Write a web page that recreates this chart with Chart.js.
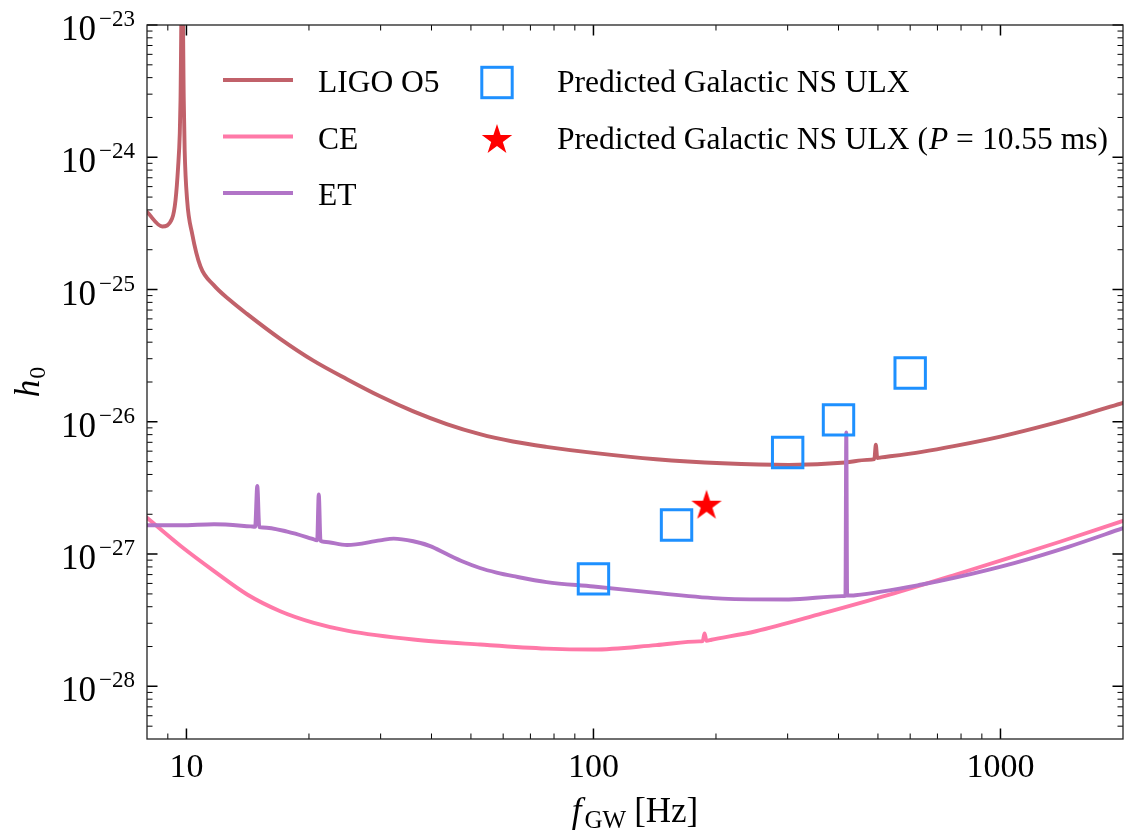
<!DOCTYPE html>
<html><head><meta charset="utf-8">
<script src="https://cdn.jsdelivr.net/npm/chart.js@4.4.1/dist/chart.umd.min.js"></script>
<style>html,body{margin:0;padding:0;background:#fff;}canvas{display:block;}</style>
</head><body>
<canvas id="c" width="1127" height="834"></canvas>
<script>
// ---------- data ----------
const ligoFreq = [8.0, 8.72, 9.22, 9.40, 9.54, 9.63, 9.67, 9.76, 9.85, 9.90, 10.04, 10.33, 10.82, 11.67, 12.82, 14.08, 17.0, 20.5, 24.8, 29.9, 36.1, 43.6, 52.6, 63.4, 76.6, 100, 142.5, 207.5, 302, 416, 470, 490, 494, 498, 510, 641, 774, 1000, 1311, 1614, 2000];
const ligoH    = [3.86e-25, 3.00e-25, 3.44e-25, 4.72e-25, 8.45e-25, 1.51e-24, 2.70e-24, 3.0e-23, 2.70e-24, 1.13e-24, 4.72e-25, 2.64e-25, 1.50e-25, 1.08e-25, 8.26e-26, 6.55e-26, 4.24e-26, 2.90e-26, 2.10e-26, 1.56e-26, 1.20e-26, 9.62e-27, 8.07e-27, 7.10e-27, 6.47e-27, 5.82e-27, 5.21e-27, 4.86e-27, 4.72e-27, 4.92e-27, 5.16e-27, 5.22e-27, 6.70e-27, 5.33e-27, 5.38e-27, 5.93e-27, 6.58e-27, 7.74e-27, 9.53e-27, 1.14e-26, 1.39e-26];

const ceFreq = [8.0, 9.68, 11.69, 14.1, 17.0, 20.56, 24.8, 36.1, 52.7, 76.7, 100, 142.5, 182, 185.5, 187.5, 189.5, 195, 250.6, 365, 531, 774, 1046, 1400, 2000];
const ceH    = [1.88e-27, 1.15e-27, 7.43e-28, 4.95e-28, 3.70e-28, 3.02e-28, 2.64e-28, 2.26e-28, 2.07e-28, 1.93e-28, 1.90e-28, 2.05e-28, 2.19e-28, 2.20e-28, 2.51e-28, 2.21e-28, 2.25e-28, 2.61e-28, 3.56e-28, 4.92e-28, 6.98e-28, 9.31e-28, 1.24e-27, 1.78e-27];

const etFreq = [8.0, 9.68, 11.69, 14.38, 14.75, 14.93, 15.1, 15.4, 17.68, 20.3, 20.95, 21.14, 21.35, 21.75, 24.8, 29.9, 32.3, 36.1, 39.7, 43.6, 47.9, 52.6, 57.8, 63.6, 76.7, 100, 142.5, 207.5, 302, 408, 416, 418, 420, 425, 440, 641, 774, 1086, 1468, 2000];
const etH    = [1.65e-27, 1.65e-27, 1.68e-27, 1.62e-27, 1.61e-27, 3.27e-27, 1.60e-27, 1.59e-27, 1.48e-27, 1.31e-27, 1.27e-27, 2.83e-27, 1.26e-27, 1.24e-27, 1.17e-27, 1.27e-27, 1.31e-27, 1.25e-27, 1.15e-27, 1.00e-27, 8.75e-28, 7.85e-28, 7.25e-28, 6.81e-28, 6.14e-28, 5.69e-28, 5.09e-28, 4.61e-28, 4.54e-28, 4.81e-28, 4.83e-28, 8.30e-27, 4.85e-28, 4.86e-28, 4.89e-28, 5.89e-28, 6.64e-28, 8.59e-28, 1.135e-27, 1.57e-27];

const ulxFreq = [100, 160, 300, 400, 600];
const ulxH    = [6.5e-28, 1.66e-27, 5.86e-27, 1.035e-26, 2.34e-26];

const starFreq = [189.6];
const starH    = [2.32e-27];

const seriesLabels = ['LIGO O5', 'CE', 'ET', 'Predicted Galactic NS ULX', 'Predicted Galactic NS ULX (P = 10.55 ms)'];
const xTickValues = [10, 100, 1000];
const xTickLabels = ['10', '100', '1000'];
const yTickExponents = [-28, -27, -26, -25, -24, -23];

// ---------- styling ----------
const COL_LIGO = '#c1616a', COL_CE = '#ff79a8', COL_ET = '#b174c7', COL_SQ = '#1e90ff', COL_STAR = '#ff0000';
const FONT = "'Liberation Serif','DejaVu Serif',serif";

function pts(xs, ys){ return xs.map((v,i)=>({x:v, y:ys[i]})); }

function makeStar(R, color){
  const s = Math.ceil(2*R+2);
  const c = document.createElement('canvas'); c.width = s; c.height = s;
  const g = c.getContext('2d'); g.fillStyle = color; g.beginPath();
  for (let i=0;i<10;i++){ const r = i%2 ? R*0.382 : R; const a = -Math.PI/2 + i*Math.PI/5; g.lineTo(s/2 + r*Math.cos(a), s/2 + r*Math.sin(a)); }
  g.closePath(); g.fill(); return c;
}
const starImg = makeStar(16, COL_STAR);

function lineDs(label, xs, ys, color, order){
  return {label, data: pts(xs, ys), showLine:true, borderColor:color, backgroundColor:color, borderWidth:3.9,
    pointRadius:0, pointHoverRadius:0, cubicInterpolationMode:'monotone', borderJoinStyle:'round', borderCapStyle:'round', order};
}

const decor = {
  id:'decor',
  afterDraw(chart){
    const {ctx, chartArea:a, scales:{x, y}} = chart;
    ctx.save();
    ctx.strokeStyle = '#000';
    const MAJ = 10.5, MIN = 5.5;
    const xv = [], yv = [];
    for (const d of [1,10,100,1000]) for (let m=1;m<=9;m++){ const v=m*d; if (v>=x.min-1e-9 && v<=x.max+1e-9) xv.push([v, m===1]); }
    for (let e=-29;e<=-23;e++) for (let m=1;m<=9;m++){ const v=m*Math.pow(10,e); if (v>=y.min*0.9999 && v<=y.max*1.0001) yv.push([v, m===1]); }
    for (const [v, maj] of xv){
      const px = x.getPixelForValue(v); if (px < a.left+1 || px > a.right-1) continue;
      const L = maj?MAJ:MIN; ctx.lineWidth = maj?1.5:1.0;
      ctx.beginPath(); ctx.moveTo(px, a.bottom); ctx.lineTo(px, a.bottom-L); ctx.moveTo(px, a.top); ctx.lineTo(px, a.top+L); ctx.stroke();
    }
    for (const [v, maj] of yv){
      const py = y.getPixelForValue(v); if (py > a.bottom-1) continue;
      const L = maj?MAJ:MIN; ctx.lineWidth = maj?1.5:1.0;
      ctx.beginPath(); ctx.moveTo(a.left, py); ctx.lineTo(a.left+L, py); ctx.moveTo(a.right, py); ctx.lineTo(a.right-L, py); ctx.stroke();
    }
    ctx.lineWidth = 1.3; ctx.strokeStyle = '#222';
    ctx.strokeRect(a.left, a.top, a.right-a.left, a.bottom-a.top);

    // tick labels
    ctx.fillStyle = '#000'; ctx.textBaseline = 'alphabetic';
    for (const e of yTickExponents){
      const py = y.getPixelForValue(Math.pow(10, e));
      const sup = '\u2212' + Math.abs(e);
      ctx.font = '23px ' + FONT; const sw = ctx.measureText(sup).width;
      const right = a.left - 12;
      ctx.textAlign = 'left'; ctx.fillText(sup, right - sw, py + 1);
      ctx.font = '35px ' + FONT; ctx.textAlign = 'right'; ctx.fillText('10', right - sw - 3, py + 15);
    }
    ctx.font = '34px ' + FONT; ctx.textAlign = 'center';
    xTickValues.forEach((v,i)=>{ ctx.fillText(xTickLabels[i], x.getPixelForValue(v), a.bottom + 38); });

    // axis titles
    function drawParts(parts, cx, base){
      let w = 0; parts.forEach(p=>{ ctx.font = p.f; w += ctx.measureText(p.t).width + (p.gap||0); });
      let xx = cx - w/2; ctx.textAlign = 'left';
      parts.forEach(p=>{ ctx.font = p.f; ctx.fillText(p.t, xx, base + (p.dy||0)); xx += ctx.measureText(p.t).width + (p.gap||0); });
    }
    drawParts([{t:'f', f:'italic 35px '+FONT, gap:3}, {t:'GW', f:'25px '+FONT, dy:6, gap:8}, {t:'[Hz]', f:'35px '+FONT}], (a.left+a.right)/2, a.bottom + 83);
    ctx.save(); ctx.translate(39, (a.top+a.bottom)/2); ctx.rotate(-Math.PI/2);
    drawParts([{t:'h', f:'italic 35px '+FONT, gap:1}, {t:'0', f:'24px '+FONT, dy:6}], 0, 0);
    ctx.restore();

    // legend
    const ds = chart.data.datasets;
    const rows = [80, 136.5, 193];
    ctx.font = '31.5px ' + FONT; ctx.textAlign = 'left';
    [0,1,2].forEach(i=>{
      const d = ds.find(q=>q.label===seriesLabels[i]);
      ctx.strokeStyle = d.borderColor; ctx.lineWidth = d.borderWidth; ctx.lineCap = 'butt';
      ctx.beginPath(); ctx.moveTo(223, rows[i]); ctx.lineTo(293, rows[i]); ctx.stroke();
      ctx.fillStyle = '#000'; ctx.fillText(d.label, 318, rows[i] + 12);
    });
    const sq = ds.find(q=>q.label===seriesLabels[3]);
    ctx.strokeStyle = sq.borderColor; ctx.lineWidth = sq.borderWidth;
    const half = sq.pointRadius*Math.SQRT1_2;
    ctx.strokeRect(497-half, 82.5-half, 2*half, 2*half);
    ctx.fillStyle = '#000'; ctx.font = '31.5px ' + FONT; ctx.fillText(sq.label, 557, rows[0] + 12);
    ctx.drawImage(starImg, 497 - starImg.width/2, 140 - starImg.height/2);
    let xx = 557; const b = rows[1] + 12;
    [['Predicted Galactic NS ULX (', '31.5px ', 1], ['P', 'italic 31.5px ', 8], ['=', '31.5px ', 8], ['10.55 ms)', '31.5px ', 0]].forEach(([t,f,g])=>{
      ctx.font = f + FONT; ctx.fillText(t, xx, b); xx += ctx.measureText(t).width + g;
    });
    ctx.restore();
  }
};

new Chart(document.getElementById('c'), {
  type: 'scatter',
  data: { datasets: [
    {label: seriesLabels[3], data: pts(ulxFreq, ulxH), showLine:false, pointStyle:'rect', pointRadius:21.5, pointHoverRadius:21.5,
     borderColor: COL_SQ, backgroundColor:'rgba(0,0,0,0)', borderWidth:3, pointBorderWidth:3, order:0},
    {label: seriesLabels[4], data: pts(starFreq, starH), showLine:false, pointStyle: starImg, pointRadius:16, order:0},
    lineDs(seriesLabels[2], etFreq, etH, COL_ET, 1),
    lineDs(seriesLabels[1], ceFreq, ceH, COL_CE, 2),
    lineDs(seriesLabels[0], ligoFreq, ligoH, COL_LIGO, 3)
  ]},
  options: {
    responsive:false, animation:false, devicePixelRatio:1,
    layout:{autoPadding:false, padding:{top:25, right:4, left:0, bottom:0}},
    plugins:{legend:{display:false}, tooltip:{enabled:false}},
    events:[],
    scales:{
      x:{type:'logarithmic', min:8, max:2000, grid:{display:false}, border:{display:false}, ticks:{display:false},
         afterFit(s){ s.height = 95; }},
      y:{type:'logarithmic', min:4e-29, max:1e-23, grid:{display:false}, border:{display:false}, ticks:{display:false},
         afterFit(s){ s.width = 147; }}
    }
  },
  plugins:[decor]
});
</script>
</body></html>
